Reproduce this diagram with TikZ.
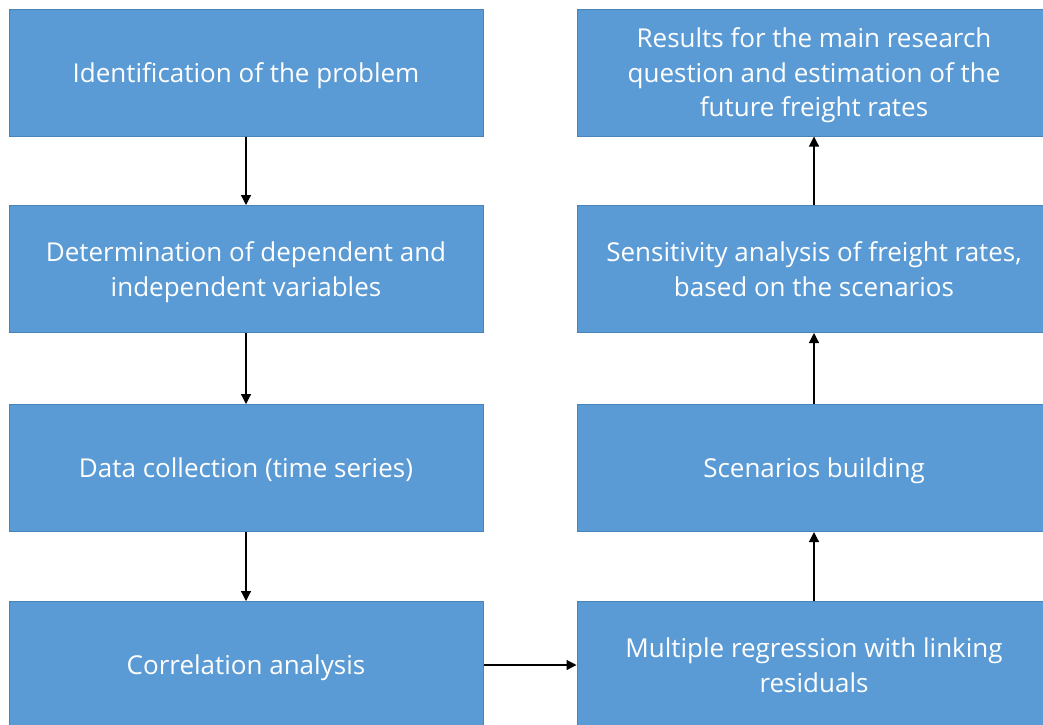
\documentclass[tikz,border=0pt]{standalone}
\usepackage{fontspec}
\setmainfont{Open Sans}[Ligatures=NoCommon]
\usetikzlibrary{arrows.meta}
\definecolor{boxfill}{HTML}{5B9BD5}
\definecolor{boxline}{HTML}{4A83B8}
\newcommand\boxtext[1]{\raisebox{-3pt}[\height][\depth]{\begin{tabular}{@{}c@{}}#1\end{tabular}}}
\tikzset{
  box/.style={draw=boxline, line width=1pt, fill=boxfill, text=white,
    minimum width=474pt, minimum height=127pt, inner sep=0pt,
    font=\fontsize{26}{34.5}\selectfont},
  conn/.style={draw=black, line width=1.2pt, -{Triangle[width=10pt,length=10pt]}}
}
\begin{document}
\begin{tikzpicture}[x=1pt,y=-1pt]
\clip (0,0) rectangle (1043,724);
\fill[white] (0,0) rectangle (1043,724);
\node[box] (a) at (246,72.5) {\boxtext{Identification of the problem}};
\node[box] (b) at (246,269) {\boxtext{Determination of dependent and\\independent variables}};
\node[box] (c) at (246,468) {\boxtext{Data collection (time series)}};
\node[box] (d) at (246,665) {\boxtext{Correlation analysis}};
\node[box] (e) at (814,665) {\boxtext{Multiple regression with linking\\residuals}};
\node[box] (f) at (814,468) {\boxtext{Scenarios building}};
\node[box] (g) at (814,269) {\boxtext{Sensitivity analysis of freight rates,\\based on the scenarios}};
\node[box] (h) at (814,72.5) {\boxtext{Results for the main research\\question and estimation of the\\future freight rates}};
\draw[conn] (a) -- (b);
\draw[conn] (b) -- (c);
\draw[conn] (c) -- (d);
\draw[conn] (d) -- (e);
\draw[conn] (e) -- (f);
\draw[conn] (f) -- (g);
\draw[conn] (g) -- (h);
\end{tikzpicture}
\end{document}
